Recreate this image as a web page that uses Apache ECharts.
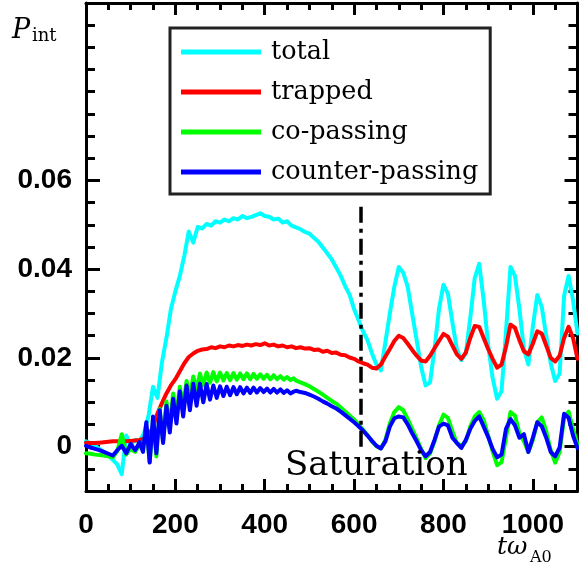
<!DOCTYPE html>
<html>
<head>
<meta charset="utf-8">
<script src="https://cdn.jsdelivr.net/npm/echarts@6/dist/echarts.min.js"></script>
<style>
    html, body { margin: 0; padding: 0; background: #fff; }
    #main { width: 579px; height: 571px; }
</style>
</head>
<body>
<div id="main"></div>
<script>
// time grid for total / trapped (step 10)
var tCoarse = [0, 10, 20, 30, 40, 50, 60, 70, 80, 90,
    100, 110, 120, 130, 140, 150, 160, 170, 180, 190,
    200, 210, 220, 230, 240, 250, 260, 270, 280, 290,
    300, 310, 320, 330, 340, 350, 360, 370, 380, 390,
    400, 410, 420, 430, 440, 450, 460, 470, 480, 490,
    500, 510, 520, 530, 540, 550, 560, 570, 580, 590,
    600, 610, 620, 630, 640, 650, 660, 670, 680, 690,
    700, 710, 720, 730, 740, 750, 760, 770, 780, 790,
    800, 810, 820, 830, 840, 850, 860, 870, 880, 890,
    900, 910, 920, 930, 940, 950, 960, 970, 980, 990,
    1000, 1010, 1020, 1030, 1040, 1050, 1060, 1070, 1080, 1090, 1100];

var totalV = [0.0012, 0.0008, 0.0002, -0.0005, -0.0012, -0.002, -0.003, -0.004, -0.0062, 0.0025,
    0.0005, 0.0015, 0.0012, 0.003, 0.007, 0.0135, 0.011, 0.019, 0.0245, 0.031,
    0.035, 0.0385, 0.043, 0.0485, 0.046, 0.0495, 0.0492, 0.0502, 0.0498, 0.0508,
    0.0505, 0.0512, 0.0508, 0.0515, 0.0512, 0.052, 0.0515, 0.0518, 0.0522, 0.0526,
    0.052, 0.0518, 0.0512, 0.0514, 0.0505, 0.0508, 0.0498, 0.0494, 0.049, 0.0484,
    0.048, 0.0471, 0.0462, 0.0449, 0.0436, 0.0422, 0.0404, 0.0385, 0.0362, 0.0342,
    0.031, 0.0285, 0.026, 0.024, 0.021, 0.0185, 0.0172, 0.0235, 0.030, 0.036,
    0.0405, 0.0392, 0.036, 0.03, 0.024, 0.018, 0.0138, 0.0145, 0.022, 0.031,
    0.0365, 0.0345, 0.028, 0.022, 0.0195, 0.021, 0.029, 0.038, 0.0412, 0.033,
    0.023, 0.0155, 0.0108, 0.0125, 0.026, 0.0405, 0.0385, 0.031, 0.022, 0.0185,
    0.027, 0.0342, 0.0315, 0.025, 0.0188, 0.0148, 0.0165, 0.034, 0.0385, 0.033, 0.0255];

var trappedV = [0.0009, 0.0008, 0.0008, 0.0009, 0.001, 0.0011, 0.0012, 0.0012, 0.0011, 0.0012,
    0.0013, 0.0014, 0.0015, 0.0018, 0.0025, 0.0045, 0.0075, 0.0098, 0.012, 0.0138,
    0.0152, 0.017, 0.0188, 0.0202, 0.021, 0.0216, 0.0219, 0.022, 0.0224, 0.0222,
    0.0226, 0.0224, 0.0228, 0.0226, 0.0229, 0.0227, 0.023, 0.0228, 0.0231, 0.0229,
    0.0233, 0.0228, 0.023, 0.0226, 0.0228, 0.0224, 0.0226, 0.0222, 0.0224, 0.0221,
    0.0222, 0.0218, 0.0219, 0.0214, 0.0216, 0.0211, 0.0212, 0.0207, 0.0206, 0.0201,
    0.0198, 0.0192, 0.0188, 0.0185, 0.0178, 0.0176, 0.0185, 0.0203, 0.022, 0.0238,
    0.025, 0.0245, 0.0232, 0.0218, 0.0205, 0.0194, 0.0192, 0.0205, 0.0222, 0.0238,
    0.0254, 0.0248, 0.0228, 0.0208, 0.0198, 0.0212, 0.0245, 0.0272, 0.027, 0.0245,
    0.022, 0.0198, 0.0178, 0.0185, 0.0225, 0.0275, 0.0268, 0.024, 0.0215, 0.0208,
    0.0232, 0.026, 0.0255, 0.0228, 0.02, 0.0192, 0.0205, 0.0245, 0.027, 0.0245, 0.0198];

// time grid for the passing particles (denser where they oscillate)
var tFine = [0, 10, 20, 30, 40, 50, 60, 70, 80, 90, 100, 110, 120,
    127.5, 135, 142.5, 150, 157.5, 165, 172.5, 180, 187.5, 195,
    202.5, 210, 217.5, 225, 232.5, 240, 247.5, 255, 262.5, 270,
    277.5, 285, 292.5, 300, 307.5, 315, 322.5, 330, 337.5, 345,
    352.5, 360, 367.5, 375, 382.5, 390, 397.5, 405, 412.5, 420,
    427.5, 435, 442.5, 450, 457.5, 465,
    470, 480, 490, 500, 510, 520, 530, 540, 550, 560,
    570, 580, 590, 600, 610, 620, 630, 640, 650, 660,
    670, 680, 690, 700, 710, 720, 730, 740, 750, 760,
    770, 780, 790, 800, 810, 820, 830, 840, 850, 860,
    870, 880, 890, 900, 910, 920, 930, 940, 950, 960,
    970, 980, 990, 1000, 1010, 1020, 1030, 1040, 1050, 1060,
    1070, 1080, 1090, 1100];

var coPassV = [-0.0015, -0.0016, -0.0018, -0.0019, -0.002, -0.0022, -0.0024, -0.001, 0.0028, -0.0018, -0.0005, -0.0012, 0.0005,
    -0.0008, 0.0045, -0.0035, 0.0062, -0.0022, 0.0085, 0.0012, 0.0102, 0.0045, 0.012,
    0.0072, 0.0135, 0.0092, 0.0148, 0.0112, 0.0158, 0.0128, 0.0165, 0.0138, 0.0167,
    0.0144, 0.0168, 0.0147, 0.0167, 0.0149, 0.0166, 0.015, 0.0166, 0.0151, 0.0165,
    0.0152, 0.0165, 0.0152, 0.0164, 0.0153, 0.0163, 0.0153, 0.0162, 0.0152, 0.0161,
    0.0152, 0.0159, 0.0151, 0.0157, 0.015, 0.0154,
    0.0149, 0.0145, 0.0141, 0.0136, 0.013, 0.0124, 0.0117, 0.011, 0.0103, 0.0097,
    0.0088, 0.0079, 0.007, 0.0061, 0.005, 0.0038, 0.0026, 0.0012, 0.0001, -0.0004,
    0.0015, 0.0052, 0.0078, 0.0089, 0.0082, 0.0062, 0.004, 0.0018, -0.0005, -0.0026,
    -0.0015, 0.0012, 0.0048, 0.0072, 0.0065, 0.0035, 0.0008, 0.0002, 0.0012, 0.0045,
    0.0068, 0.0078, 0.006, 0.0025, -0.001, -0.0042, -0.0035, 0.002, 0.0078, 0.007,
    0.003, 0.0012, -0.0012, 0.0015, 0.0055, 0.0066, 0.0035, -0.0008, -0.0036, -0.0012,
    0.0065, 0.0079, 0.004, 0.0005];

var counterPassV = [0.0002, -0.0002, -0.0005, -0.0008, -0.0012, -0.0016, -0.002, -0.0008, 0.0002, -0.0015, 0.0006, -0.0008, 0.001,
    -0.0012, 0.0055, -0.0036, 0.0068, -0.0015, 0.0082, 0.0008, 0.0092, 0.0032, 0.0108,
    0.0052, 0.0125, 0.0068, 0.0138, 0.0082, 0.0142, 0.0092, 0.0142, 0.0100, 0.0141,
    0.0106, 0.0138, 0.0110, 0.0136, 0.0114, 0.0135, 0.0116, 0.0134, 0.0118, 0.0134,
    0.0120, 0.0133, 0.0121, 0.0133, 0.0122, 0.0132, 0.0123, 0.0131, 0.0122, 0.0130,
    0.0122, 0.0129, 0.0121, 0.0127, 0.0120, 0.0124,
    0.0126, 0.0123, 0.0121, 0.0117, 0.0113, 0.0108, 0.0102, 0.0097, 0.0091, 0.0086,
    0.0079, 0.0071, 0.0063, 0.0055, 0.0046, 0.0036, 0.0025, 0.0013, 0.0002, -0.0004,
    0.0012, 0.0045, 0.0064, 0.0068, 0.0066, 0.005, 0.003, 0.0012, -0.0008, -0.0022,
    -0.0012, 0.0015, 0.0045, 0.0052, 0.0048, 0.002, 0.0008, -0.0003, 0.0015, 0.004,
    0.0058, 0.0068, 0.0045, 0.0022, -0.0005, -0.0024, -0.0018, 0.004, 0.0062, 0.0048,
    0.002, 0.0028, -0.0012, 0.002, 0.0055, 0.0046, 0.002, -0.0012, -0.0022, -0.0002,
    0.0074, 0.0065, 0.0025, -0.0003];

var seriesNames = ['total', 'trapped', 'co-passing', 'counter-passing'];

// ticks and labels
var xLabels = [0, 200, 400, 600, 800, 1000];
var xMajorTicks = [200, 400, 600, 800, 1000];
var xMinorTicks = [50, 100, 150, 200, 250, 300, 350, 400, 450, 500, 550, 600,
    650, 700, 750, 800, 850, 900, 950, 1000, 1050];
var yLabels = [0, 0.02, 0.04, 0.06];
var yMajorTicks = [0, 0.02, 0.04, 0.06];
var yMinorTicks = [-0.005, 0, 0.005, 0.01, 0.015, 0.02, 0.025, 0.03, 0.035, 0.04, 0.045,
    0.05, 0.055, 0.06, 0.065, 0.07, 0.075, 0.08, 0.085, 0.09, 0.095];

// saturation marker
var satT = 614;
var satTop = 0.0553;

(function () {
    var myChart = echarts.init(document.getElementById('main'));

    function pairs(t, v) {
        var out = [];
        for (var i = 0; i < t.length; i++) {
            out.push([t[i], v[i]]);
        }
        return out;
    }

    // one axis per side/tick length (ECharts draws only one tick length per axis)
    function xAx(pos, ticks, len, showLine, labels) {
        return {
            type: 'value', min: 0, max: 1100, position: pos,
            axisLine: { show: showLine, onZero: false, lineStyle: { color: '#000', width: 3 } },
            axisTick: { show: true, inside: true, length: len, customValues: ticks,
                lineStyle: { color: '#000', width: 3 } },
            axisLabel: labels ? {
                show: true, customValues: labels, margin: 20,
                fontSize: 28, fontWeight: 'bold', fontFamily: 'Liberation Sans', color: '#000',
                formatter: function (v) { return String(v); }
            } : { show: false },
            splitLine: { show: false }
        };
    }
    function yAx(pos, ticks, len, showLine, labels) {
        return {
            type: 'value', min: -0.01, max: 0.1, position: pos,
            axisLine: { show: showLine, onZero: false, lineStyle: { color: '#000', width: 3 } },
            axisTick: { show: true, inside: true, length: len, customValues: ticks,
                lineStyle: { color: '#000', width: 3 } },
            axisLabel: labels ? {
                show: true, customValues: labels, margin: 14,
                fontSize: 28, fontWeight: 'bold', fontFamily: 'Liberation Sans', color: '#000',
                formatter: function (v) { return v === 0 ? '0' : v.toFixed(2); }
            } : { show: false },
            splitLine: { show: false }
        };
    }

    var lineBase = { width: 4, join: 'round', cap: 'round' };

    var option = {
        animation: false,
        backgroundColor: '#fff',
        grid: { left: 86, right: 1.5, top: 3, bottom: 80, containLabel: false },
        xAxis: [
            xAx('bottom', xMinorTicks, 7, true, xLabels),
            xAx('bottom', xMajorTicks, 12, false, null),
            xAx('top', xMinorTicks, 7, true, null),
            xAx('top', xMajorTicks, 12, false, null)
        ],
        yAxis: [
            yAx('left', yMinorTicks, 9, true, yLabels),
            yAx('left', yMajorTicks, 14, false, null),
            yAx('right', yMinorTicks, 9, true, null),
            yAx('right', yMajorTicks, 13, false, null)
        ],
        legend: {
            orient: 'vertical',
            left: 170,
            top: 28,
            icon: 'rect',
            itemWidth: 80,
            itemHeight: 5,
            itemGap: 10,
            padding: [9, 12, 7, 11],
            borderColor: '#222',
            borderWidth: 3,
            backgroundColor: '#fff',
            selectedMode: false,
            textStyle: {
                fontFamily: 'DejaVu Serif', fontSize: 25.5, lineHeight: 30, color: '#000',
                padding: [0, 0, 0, 5]
            },
            data: seriesNames
        },
        color: ['#00ffff', '#ff0000', '#00ff00', '#0000ff'],
        series: [
            {
                name: seriesNames[0], type: 'line', showSymbol: false,
                lineStyle: Object.assign({ color: '#00ffff' }, lineBase),
                data: pairs(tCoarse, totalV)
            },
            {
                name: seriesNames[1], type: 'line', showSymbol: false,
                lineStyle: Object.assign({ color: '#ff0000' }, lineBase),
                data: pairs(tCoarse, trappedV)
            },
            {
                name: seriesNames[2], type: 'line', showSymbol: false,
                lineStyle: Object.assign({ color: '#00ff00' }, lineBase),
                data: pairs(tFine, coPassV)
            },
            {
                name: seriesNames[3], type: 'line', showSymbol: false,
                lineStyle: Object.assign({ color: '#0000ff' }, lineBase),
                data: pairs(tFine, counterPassV),
                markLine: {
                    silent: true,
                    symbol: ['none', 'none'],
                    label: { show: false },
                    lineStyle: { color: '#000', width: 3.5, type: [16, 6, 4, 6] },
                    data: [[{ coord: [satT, 0] }, { coord: [satT, satTop] }]]
                }
            }
        ],
        graphic: [
            { type: 'text', left: 12, top: 17, z: 100,
                style: { text: 'P', font: 'italic 27px "DejaVu Serif"', fill: '#000' } },
            { type: 'text', left: 32, top: 27, z: 100,
                style: { text: 'int', font: '18px "DejaVu Serif"', fill: '#000' } },
            { type: 'text', left: 497, top: 535, z: 100,
                style: { text: 'tω', font: 'italic 25px "DejaVu Serif"', fill: '#000' } },
            { type: 'text', left: 530, top: 550, z: 100,
                style: { text: 'A0', font: '16px "DejaVu Serif"', fill: '#000' } },
            { type: 'text', left: 285, top: 449, z: 100,
                style: { text: 'Saturation', font: '34px "DejaVu Serif"', fill: '#000' } }
        ]
    };

    myChart.setOption(option);
    window.addEventListener('resize', function () {
        myChart.resize();
    });
})();
</script>
</body>
</html>
